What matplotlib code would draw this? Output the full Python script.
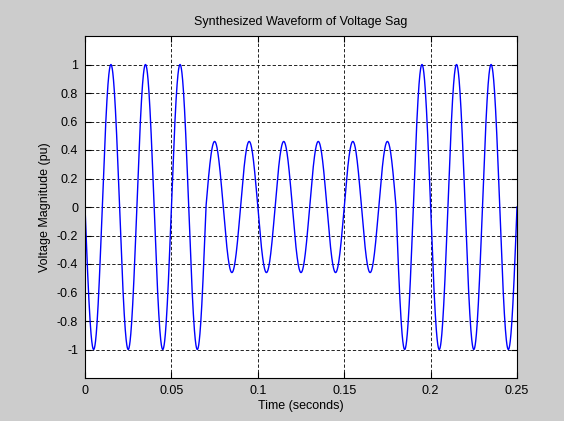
import numpy as np
import matplotlib
matplotlib.use('Agg')
import matplotlib.pyplot as plt

# peak magnitude (pu) of each 10 ms half cycle
half_cycle_peaks = [1.0, 1.0, 1.0, 1.0, 1.0, 1.0, 1.0,
                    0.46, 0.46, 0.46, 0.46, 0.46, 0.46, 0.46, 0.46, 0.46, 0.46, 0.46,
                    1.0, 1.0, 1.0, 1.0, 1.0, 1.0, 1.0]
freq_hz = 50
t_end = 0.25
x_ticks = [0, 0.05, 0.1, 0.15, 0.2, 0.25]
x_tick_labels = ['0', '0.05', '0.1', '0.15', '0.2', '0.25']
y_ticks = [-1, -0.8, -0.6, -0.4, -0.2, 0, 0.2, 0.4, 0.6, 0.8, 1]
y_tick_labels = ['-1', '-0.8', '-0.6', '-0.4', '-0.2', '0', '0.2', '0.4', '0.6', '0.8', '1']

t = np.linspace(0, t_end, 2501)
half = 1.0 / (2 * freq_hz)
idx = np.minimum((t / half).astype(int), len(half_cycle_peaks) - 1)
amp = np.array(half_cycle_peaks)[idx]
v = -amp * np.sin(2 * np.pi * freq_hz * t)

plt.rcParams['font.family'] = ['Liberation Sans', 'DejaVu Sans']

fig = plt.figure(figsize=(5.64, 4.21), dpi=100, facecolor='#cccccc')
ax = fig.add_axes([85 / 564, 1 - 378 / 421, 432 / 564, 342 / 421])
ax.set_facecolor('white')
ax.plot(t, v, color='blue', linewidth=1.0)

ax.set_xlim(0, t_end)
ax.set_ylim(-1.2, 1.2)
ax.set_xticks(x_ticks)
ax.set_xticklabels(x_tick_labels)
ax.set_yticks(y_ticks)
ax.set_yticklabels(y_tick_labels)
ax.tick_params(direction='in', length=4, width=0.8, labelsize=9, colors='black',
               top=True, right=True, pad=5)
ax.grid(True, color='#222222', linestyle=(0, (3.4, 2.1)), linewidth=0.7)
for s in ax.spines.values():
    s.set_color('black')
    s.set_linewidth(0.8)

ax.set_title('Synthesized Waveform of Voltage Sag', fontsize=9, pad=8)
ax.set_xlabel('Time (seconds)', fontsize=9, labelpad=2)
ax.set_ylabel('Voltage Magnitude (pu)', fontsize=9, labelpad=4)

fig.savefig('out.png', dpi=100, facecolor=fig.get_facecolor())
